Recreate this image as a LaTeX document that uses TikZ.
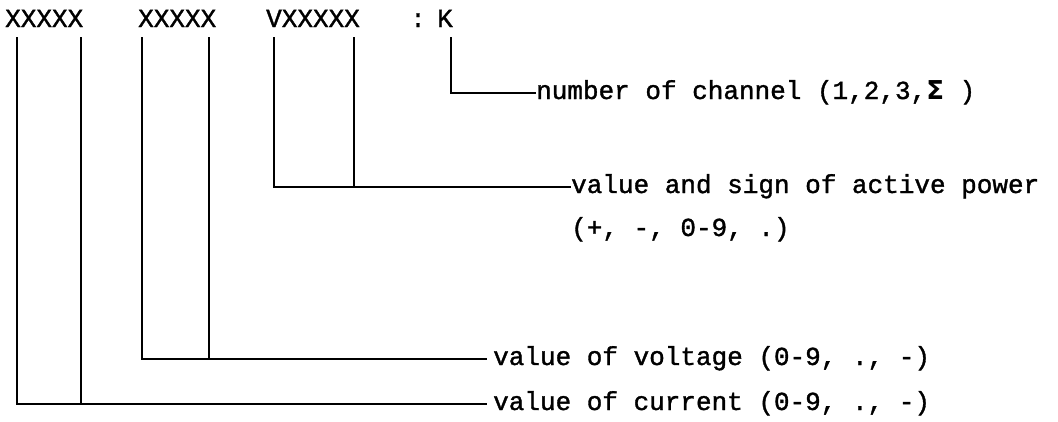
\documentclass[tikz,border=0pt]{standalone}
\usepackage{fontspec}
\setmonofont{Liberation Mono}[FakeBold=1.3]
\newfontfamily\sigmafont{DejaVu Sans}
\begin{document}
\begin{tikzpicture}[x=1pt,y=-1pt,
  lbl/.style={anchor=base west,inner sep=0pt,font=\ttfamily\fontsize{26}{30}\selectfont},
  head/.style={anchor=base west,inner sep=0pt,font=\ttfamily\fontsize{26}{30}\selectfont},
  lead/.style={line width=1.1pt,line cap=butt}]
\useasboundingbox[fill=white] (0,0) rectangle (1058,421);
% field header
\node[head] (f1) at (5,27) {XXXXX};
\node[head] (f2) at (138,27) {XXXXX};
\node[head] (f3) at (266,27) {VXXXXX};
\node[head] (f4) at (410,27) {:};
\node[head] (f5) at (437,27) {K};
% descriptions
\node[lbl] (dk) at (536,99) {number of channel (1,2,3,{\sigmafont\bfseries Σ} )};
\node[lbl] (dp) at (571,193) {value and sign of active power};
\node[lbl] (dp2) at (571,236) {(+, -, 0-9, .)};
\node[lbl] (dv) at (493,365) {value of voltage (0-9, ., -)};
\node[lbl] (dc) at (493,410) {value of current (0-9, ., -)};
% tap points under the header
\coordinate (a1) at (17,37);  \coordinate (a2) at (81,37);
\coordinate (b1) at (142,37); \coordinate (b2) at (209,37);
\coordinate (c1) at (274,37); \coordinate (c2) at (354,37);
\coordinate (k1) at (451,37);
% leader lines
\draw[lead] (k1) |- (dk.base west |- 0,93);
\draw[lead] (c1) |- (570,187) -- (dp.base west |- 0,187);
\draw[lead] (c2) -- (c2 |- 0,187);
\draw[lead] (b1) |- (487,359);
\draw[lead] (b2) -- (b2 |- 0,359);
\draw[lead] (a1) |- (487,404);
\draw[lead] (a2) -- (a2 |- 0,404);
\end{tikzpicture}
\end{document}
